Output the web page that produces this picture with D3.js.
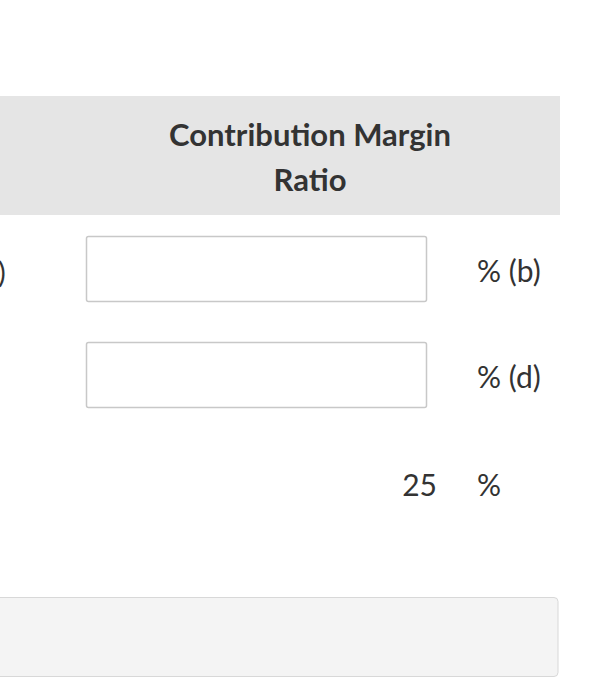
<!DOCTYPE html>
<html><head><meta charset="utf-8">
<script src="https://cdn.jsdelivr.net/npm/d3@7"></script>
<style>body{margin:0;background:#fff}</style>
</head><body>
<svg id="c" width="594" height="688"></svg>
<script>
const headerLines = ["Contribution Margin", "Ratio"];
const rowSuffixes = ["% (b)", "% (d)", "%"];
const rowInputs = [true, true, false];
const rowValues = [null, null, "25"];
const rowBaselines = [282, 388, 496];
const svg = d3.select("#c");
const font = "Lato, 'Open Sans', sans-serif";
svg.append("rect").attr("x",-2).attr("y",96).attr("width",562).attr("height",119).attr("fill","#e5e5e5");
svg.selectAll("text.h").data(headerLines).join("text").attr("class","h")
  .attr("x",310).attr("y",(d,i)=>146+i*45).attr("text-anchor","middle")
  .attr("font-family",font).attr("font-weight",700).attr("font-size",31).attr("fill","#333").text(d=>d);
svg.append("text").attr("x",-2).attr("y",283).attr("font-family",font).attr("font-size",29).attr("fill","#333").text(")");
const y = d3.scaleBand().domain(d3.range(rowSuffixes.length)).range([236,236+3*106]);
rowSuffixes.forEach((s,i)=>{
  const top=y(i);
  if(rowInputs[i]) svg.append("rect").attr("x",86.5).attr("y",top+0.5).attr("width",340).attr("height",65).attr("rx",2).attr("fill","#fff").attr("stroke","#c8c8c8").attr("stroke-width",1.5);
  if(rowValues[i]) svg.append("text").attr("x",437).attr("y",rowBaselines[i]).attr("text-anchor","end").attr("font-family",font).attr("font-size",30).attr("fill","#333").text(rowValues[i]);
  svg.append("text").attr("x",477).attr("y",rowBaselines[i]).attr("font-family",font).attr("font-size",30).attr("fill","#333").text(s);
});
svg.append("rect").attr("x",-5).attr("y",597.5).attr("width",563).attr("height",79).attr("rx",4).attr("fill","#f4f4f4").attr("stroke","#d8d8d8");
</script>
</body></html>
